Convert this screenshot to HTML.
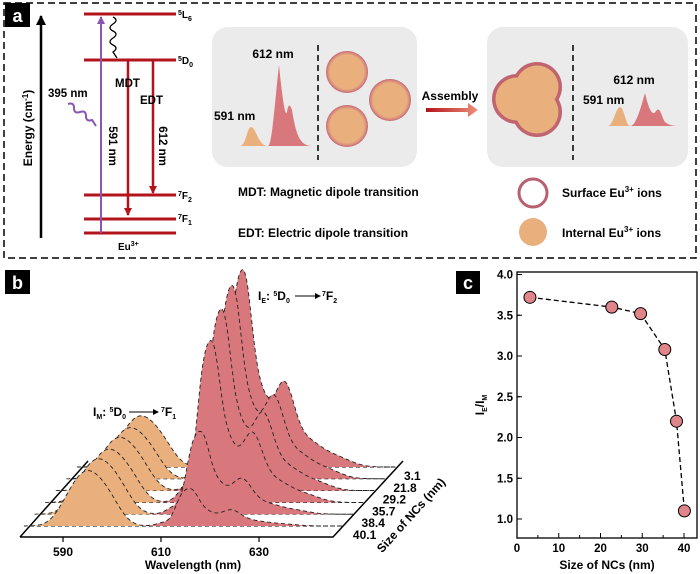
<!DOCTYPE html>
<html><head><meta charset="utf-8">
<style>
html,body{margin:0;padding:0;background:#fff;}
svg{display:block;font-family:"Liberation Sans",Arial,sans-serif;font-weight:bold;}
</style></head>
<body>
<svg id="fig" width="700" height="574" viewBox="0 0 700 574" xmlns="http://www.w3.org/2000/svg">
<defs>
<marker id="ar" markerWidth="8" markerHeight="8" refX="7" refY="4" orient="auto" markerUnits="userSpaceOnUse"><path d="M0,0 L8,4 L0,8 z" fill="#b3141c"/></marker>
<marker id="ak" markerWidth="10" markerHeight="10" refX="9" refY="5" orient="auto" markerUnits="userSpaceOnUse"><path d="M0,0 L10,5 L0,10 z" fill="#000"/></marker>
<marker id="ap" markerWidth="8" markerHeight="8" refX="7" refY="4" orient="auto" markerUnits="userSpaceOnUse"><path d="M0,0 L8,4 L0,8 z" fill="#8a55b0"/></marker>
<marker id="asm" markerWidth="6" markerHeight="6" refX="5" refY="3" orient="auto" markerUnits="userSpaceOnUse"><path d="M0,0 L6,3 L0,6 z" fill="#000"/></marker>
<radialGradient id="np" cx="50%" cy="50%" r="50%"><stop offset="0.8" stop-color="#e9b07e"/><stop offset="0.92" stop-color="#d98a7c"/><stop offset="1" stop-color="#c06470"/></radialGradient>
<linearGradient id="asg" x1="0" x2="1"><stop offset="0" stop-color="#b3141c"/><stop offset="1" stop-color="#ef8f7a"/></linearGradient>
</defs>

<g>
<rect x="4" y="3" width="692" height="255" fill="none" stroke="#000" stroke-width="1.5" stroke-dasharray="7,4"/>
<rect x="5" y="3" width="25" height="24" fill="#000"/>
<text x="17.5" y="22" font-size="18" fill="#fff" text-anchor="middle">a</text>
<line x1="41" y1="238" x2="41" y2="16" stroke="#000" stroke-width="2.5" marker-end="url(#ak)"/>
<text transform="translate(32,128) rotate(-90)" font-size="12" text-anchor="middle">Energy (cm<tspan font-size="8" dy="-4">-1</tspan><tspan dy="4">)</tspan></text>
<g stroke="#b3141c" stroke-width="3">
<line x1="84" y1="14" x2="176" y2="14"/><line x1="84" y1="60" x2="176" y2="60"/>
<line x1="84" y1="195" x2="176" y2="195"/><line x1="84" y1="219" x2="176" y2="219"/>
<line x1="84" y1="233" x2="176" y2="233"/>
</g>
<line x1="101" y1="233" x2="101" y2="17" stroke="#8a55b0" stroke-width="2" marker-end="url(#ap)"/>
<path d="M113,17 q6,3 0,7 q-6,4 0,7 q6,3 0,7 q-6,4 0,7 q6,3 0,7 l4,6" fill="none" stroke="#000" stroke-width="1.3"/>
<path d="M68,104 q6,-2 6,4 q0,6 6,4 q6,-2 6,4 q0,6 6,4 l4,6" fill="none" stroke="#8a55b0" stroke-width="2"/>
<line x1="128" y1="61" x2="128" y2="215" stroke="#b3141c" stroke-width="2.5" marker-end="url(#ar)"/>
<line x1="153" y1="61" x2="153" y2="193" stroke="#b3141c" stroke-width="2.5" marker-end="url(#ar)"/>
<g font-size="11.5">
<text x="115" y="87">MDT</text>
<text x="140" y="104">EDT</text>
<text x="48" y="97">395 nm</text>
<text transform="translate(109,146) rotate(90)" text-anchor="middle">591 nm</text>
<text transform="translate(159,146) rotate(90)" text-anchor="middle">612 nm</text>
<text x="178" y="18" font-size="10"><tspan font-size="7" dy="-3">5</tspan><tspan dy="3">L</tspan><tspan font-size="7" dy="3">6</tspan></text>
<text x="178" y="64" font-size="10"><tspan font-size="7" dy="-3">5</tspan><tspan dy="3">D</tspan><tspan font-size="7" dy="3">0</tspan></text>
<text x="178" y="199" font-size="10"><tspan font-size="7" dy="-3">7</tspan><tspan dy="3">F</tspan><tspan font-size="7" dy="3">2</tspan></text>
<text x="178" y="222" font-size="10"><tspan font-size="7" dy="-3">7</tspan><tspan dy="3">F</tspan><tspan font-size="7" dy="3">1</tspan></text>
<text x="118" y="250" font-size="10">Eu<tspan font-size="7" dy="-4">3+</tspan></text>
</g>
<rect x="212" y="27" width="205" height="140" rx="16" fill="#ebebeb"/>
<rect x="487" y="27" width="201" height="140" rx="16" fill="#ebebeb"/>
<path d="M240,146 C246,146 247,127 251,127 C256,127 258,146 268,146 Z" fill="#e9b07e"/>
<path d="M268,146 C272,146 275,100 279,65 C282,95 285,118 287,112 C289,100 291,108 292,110 C296,135 300,146 312,146 Z" fill="#d8787c"/>
<path d="M608,126 C613,126 616,107 620,107 C624,107 626,126 630,126 Z" fill="#e9b07e"/>
<path d="M630,126 C636,126 640,110 645,93 C648,106 652,118 656,111 C660,105 662,118 665,122 C670,126 675,126 680,126 Z" fill="#d8787c"/>
<line x1="318" y1="45" x2="318" y2="160" stroke="#000" stroke-width="1.5" stroke-dasharray="6,4"/>
<line x1="573" y1="45" x2="573" y2="160" stroke="#000" stroke-width="1.5" stroke-dasharray="6,4"/>
<g font-size="12">
<text x="273" y="58" text-anchor="middle">612 nm</text>
<text x="214" y="120">591 nm</text>
<text x="634" y="84" text-anchor="middle">612 nm</text>
<text x="583" y="104">591 nm</text>
<text x="450" y="100" text-anchor="middle">Assembly</text>
</g>
<circle cx="347" cy="72" r="21" fill="url(#np)"/>
<circle cx="390" cy="100" r="21" fill="url(#np)"/>
<circle cx="347" cy="126" r="21" fill="url(#np)"/>
<g>
<circle cx="517" cy="99" r="25" fill="#c06470"/><circle cx="537" cy="87" r="25" fill="#c06470"/><circle cx="537" cy="112" r="25" fill="#c06470"/>
<circle cx="517" cy="99" r="21.5" fill="#e9b07e"/><circle cx="537" cy="87" r="21.5" fill="#e9b07e"/><circle cx="537" cy="112" r="21.5" fill="#e9b07e"/>
</g>
<path d="M426,108 L468,108 L468,103 L478,110 L468,117 L468,112 L426,112 Z" fill="url(#asg)"/>
<g font-size="12">
<text x="238" y="196">MDT: Magnetic dipole transition</text>
<text x="238" y="237">EDT: Electric dipole transition</text>
<circle cx="533" cy="193" r="14" fill="none" stroke="#b86070" stroke-width="3"/>
<circle cx="533" cy="232" r="14" fill="#e9b07e"/>
<text x="562" y="197">Surface Eu<tspan font-size="8" dy="-5">3+</tspan><tspan dy="5"> ions</tspan></text>
<text x="562" y="237">Internal Eu<tspan font-size="8" dy="-5">3+</tspan><tspan dy="5"> ions</tspan></text>
</g>
</g>

<g id="pb">
<rect x="5" y="270" width="25" height="24" fill="#000"/>
<text x="17.5" y="289" font-size="18" fill="#fff" text-anchor="middle">b</text>
</g>

<g id="pc">
<rect x="456" y="271" width="24" height="23" fill="#000"/>
<text x="468" y="289" font-size="18" fill="#fff" text-anchor="middle">c</text>
</g>
</svg>
<script>
const NS="http://www.w3.org/2000/svg";
// ---- panel b data ----
const sizes=["40.1","38.4","35.7","29.2","21.8","3.1"];
const edAmp=[0.19,0.42,0.82,0.92,0.98,1.0];
const mdAmp=[0.26,0.26,0.25,0.25,0.24,0.24];
const wlTicks=[590,610,630];
// ---- panel c data ----
const ncSize=[3.1,22.7,29.6,35.4,38.2,40.1];
const ratio=[3.72,3.60,3.52,3.08,2.20,1.10];
const xTicks=[0,10,20,30,40];
const yTicks=[1.0,1.5,2.0,2.5,3.0,3.5,4.0];

function mk(tag,attrs,parent){const e=document.createElementNS(NS,tag);for(const k in attrs)e.setAttribute(k,attrs[k]);parent.appendChild(e);return e;}
const pb=document.getElementById('pb'), pc=document.getElementById('pc');
function g(w,c,s){return Math.exp(-0.5*((w-c)/s)**2);}
function edShape(w){return 0.75*g(w,612,1.3)+0.9*g(w,614.3,1.4)+0.3*g(w,617,1.8)+0.2*g(w,618,4.5)+0.4*g(w,622.3,2)+0.15*g(w,627,3)+0.06*g(w,633,3)+0.1*g(w,608.5,1.5);}
function mdShape(w){return 0.85*g(w,593,3)+0.35*g(w,597.5,2.5)+0.25*g(w,589,2.5);}
const H=194;
function baseY(i){return 526-i*11.8;}
function xw(w,i){return 63+(w-590)*4.9+(537-baseY(i))*0.9;}
mk('path',{d:'M20,537 L333,537 L403,461 M20,537 L88,461',fill:'none',stroke:'#000','stroke-width':1.5},pb);
for(let i=sizes.length-1;i>=0;i--){
  const b=baseY(i);
  const ext=(537-b)*0.9;
  const gr=mk('g',{},pb);
  
  
  mk('line',{x1:20+ext,y1:b,x2:333+ext,y2:b,stroke:'#000','stroke-width':0.9,'stroke-dasharray':'4,3'},gr);
  let po='M'+xw(580,i)+','+b, pr='M'+xw(604,i)+','+b;
  let pts=[];
  for(let w=580;w<=645;w+=0.25){
    const v=mdAmp[i]*mdShape(w)/0.9+(w<604?0:edAmp[i]*edShape(w)/1.3);
    pts.push([xw(w,i),b-v*H,w]);
  }
  pts.forEach(p=>{if(p[2]<=604)po+=' L'+p[0].toFixed(1)+','+p[1].toFixed(1);});
  po+=' L'+xw(604,i)+','+b+' Z';
  pts.forEach(p=>{if(p[2]>=604)pr+=' L'+p[0].toFixed(1)+','+p[1].toFixed(1);});
  pr+=' L'+xw(645,i)+','+b+' Z';
  mk('path',{d:po,fill:'#e9b07e'},gr);
  mk('path',{d:pr,fill:'#d8787c'},gr);
  const outline='M'+pts.map(p=>p[0].toFixed(1)+','+p[1].toFixed(1)).join(' L');
  mk('path',{d:outline,fill:'none',stroke:'#222','stroke-width':0.9,'stroke-dasharray':'4,3'},gr);
  const t=mk('text',{x:339+ext+(i===0?4:2),y:b+13,'font-size':12},pb);
  t.textContent=sizes[i];
  
  
}
wlTicks.forEach(w=>{
  const x=63+(w-590)*4.9;
  mk('line',{x1:x,y1:537,x2:x,y2:542,stroke:'#000','stroke-width':1.2},pb);
  const t=mk('text',{x:x,y:556,'font-size':12,'text-anchor':'middle'},pb);
  t.textContent=w;
  
  
});
let t=mk('text',{x:193,y:569,'font-size':12,'text-anchor':'middle'},pb);t.textContent='Wavelength (nm)';


t=mk('text',{x:0,y:0,'font-size':12,'text-anchor':'middle',transform:'translate(414,518) rotate(-48)'},pb);t.textContent='Size of NCs (nm)';


t=mk('text',{x:258,y:300,'font-size':12},pb);
t.innerHTML='I<tspan font-size="7" dy="3">E</tspan><tspan dy="-3">: </tspan><tspan font-size="7" dy="-4">5</tspan><tspan dy="4">D</tspan><tspan font-size="7" dy="3">0</tspan>';


mk('line',{x1:295,y1:296,x2:320,y2:296,stroke:'#000','stroke-width':1,'marker-end':'url(#asm)'},pb);
t=mk('text',{x:322,y:300,'font-size':12},pb);t.innerHTML='<tspan font-size="7" dy="-4">7</tspan><tspan dy="4">F</tspan><tspan font-size="7" dy="3">2</tspan>';
t=mk('text',{x:93,y:416,'font-size':12},pb);
t.innerHTML='I<tspan font-size="7" dy="3">M</tspan><tspan dy="-3">: </tspan><tspan font-size="7" dy="-4">5</tspan><tspan dy="4">D</tspan><tspan font-size="7" dy="3">0</tspan>';


mk('line',{x1:129,y1:412,x2:158,y2:412,stroke:'#000','stroke-width':1,'marker-end':'url(#asm)'},pb);
t=mk('text',{x:161,y:416,'font-size':12},pb);t.innerHTML='<tspan font-size="7" dy="-4">7</tspan><tspan dy="4">F</tspan><tspan font-size="7" dy="3">1</tspan>';

// ---- panel c ----
const L=517,R=697,T=272,B=538;
function sx(v){return 517+v*4.175;}
function sy(v){return 519-(v-1)*81.5;}
mk('rect',{x:L,y:T,width:R-L,height:B-T,fill:'none',stroke:'#000','stroke-width':1.3},pc);
yTicks.forEach(v=>{
  mk('line',{x1:L,y1:sy(v),x2:L+5,y2:sy(v),stroke:'#000'},pc);
  if(v>1.0) mk('line',{x1:L,y1:sy(v)+40.75,x2:L+3,y2:sy(v)+40.75,stroke:'#000'},pc);
  const tt=mk('text',{x:L-4,y:sy(v)+4,'font-size':11.5,'text-anchor':'end'},pc);tt.textContent=v.toFixed(1);
  
  
});
xTicks.forEach(v=>{
  mk('line',{x1:sx(v),y1:B,x2:sx(v),y2:B-5,stroke:'#000'},pc);
  if(v<40) mk('line',{x1:sx(v+5),y1:B,x2:sx(v+5),y2:B-3,stroke:'#000'},pc);
  const tt=mk('text',{x:sx(v),y:B+14,'font-size':11.5,'text-anchor':'middle'},pc);tt.textContent=v;
  
  
});
t=mk('text',{x:607,y:569,'font-size':12,'text-anchor':'middle'},pc);t.textContent='Size of NCs (nm)';


t=mk('text',{x:0,y:0,'font-size':12,'text-anchor':'middle',transform:'translate(484,405) rotate(-90)'},pc);
t.innerHTML='I<tspan font-size="7" dy="3">E</tspan><tspan dy="-3">/I</tspan><tspan font-size="7" dy="3">M</tspan>';


const ln=mk('path',{d:'M'+ncSize.map((v,k)=>sx(v).toFixed(1)+','+sy(ratio[k]).toFixed(1)).join(' L'),fill:'none',stroke:'#000','stroke-width':1.3,'stroke-dasharray':'5,3'},pc);


ncSize.forEach((v,k)=>{
  const c=mk('circle',{cx:sx(v),cy:sy(ratio[k]),r:6,fill:'#e0868b',stroke:'#000','stroke-width':1},pc);
  
  
});
</script>
</body></html>
